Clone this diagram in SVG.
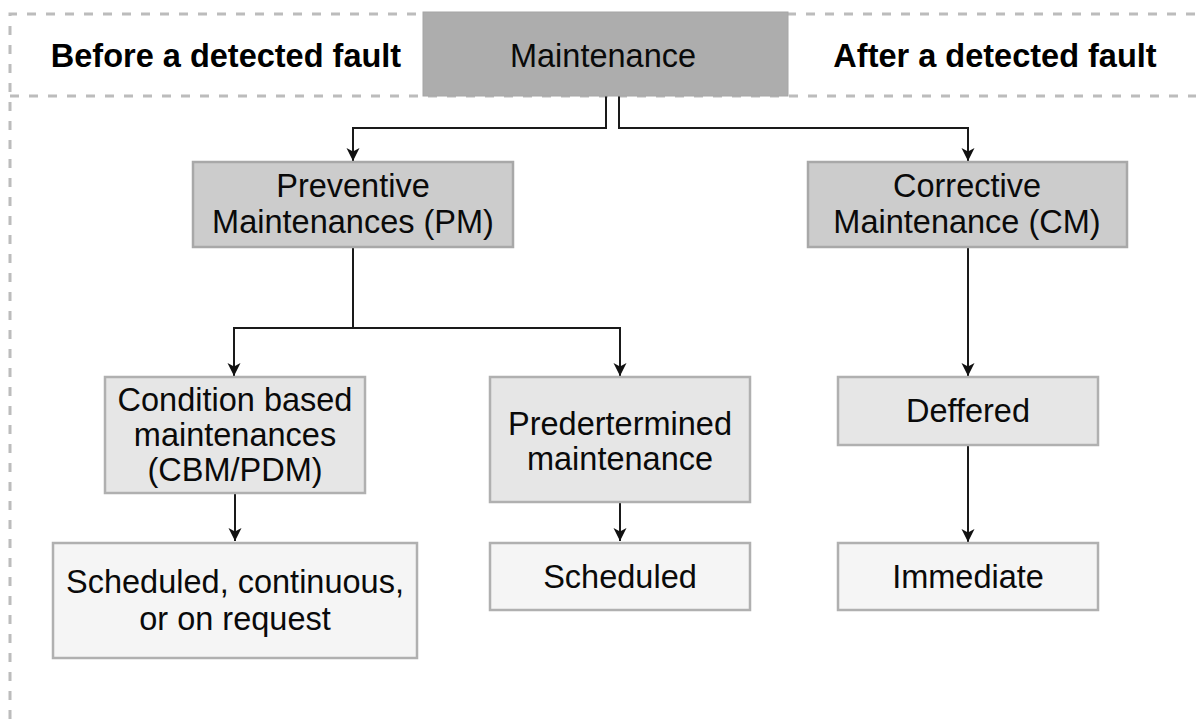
<svg xmlns="http://www.w3.org/2000/svg" width="1196" height="719" viewBox="0 0 1196 719">
<style>
  text { font-family: "Liberation Sans", Arial, Helvetica, sans-serif; font-size: 32.5px; fill: #0a0a0a; text-anchor: middle; }
  .hdr { font-weight: bold; fill: #000; }
  .dash { fill: none; stroke: #bcbcbc; stroke-width: 3; stroke-dasharray: 9 10; }
  .lvl1 { fill: #cccccc; stroke: #a8a8a8; stroke-width: 2.5; }
  .lvl2 { fill: #e6e6e6; stroke: #b0b0b0; stroke-width: 2.5; }
  .lvl3 { fill: #f5f5f5; stroke: #b0b0b0; stroke-width: 2.5; }
  .conn { fill: none; stroke: #1a1a1a; stroke-width: 2; }
</style>
<defs>
  <marker id="arr" markerUnits="userSpaceOnUse" markerWidth="16" markerHeight="16" refX="13" refY="8" orient="auto">
    <path d="M0,1.5 L13,8 L0,14.5 L3.5,8 Z" fill="#111"/>
  </marker>
</defs>
<rect width="1196" height="719" fill="#ffffff"/>

<g id="frame">
  <path class="dash" d="M10,719 L10,14 L1196,14"/>
  <path class="dash" d="M10,96 L1196,96"/>
</g>

<g id="headers">
  <text class="hdr" x="226" y="67">Before a detected fault</text>
  <text class="hdr" x="995" y="67">After a detected fault</text>
</g>

<g id="connectors">
  <path class="conn" d="M606,96 L606,128 L353,128 L353,161" marker-end="url(#arr)"/>
  <path class="conn" d="M619,96 L619,128 L968,128 L968,161" marker-end="url(#arr)"/>
  <path class="conn" d="M353,247 L353,328 L234,328 L234,376" marker-end="url(#arr)"/>
  <path class="conn" d="M353,328 L620,328 L620,376" marker-end="url(#arr)"/>
  <path class="conn" d="M968,247 L968,376" marker-end="url(#arr)"/>
  <path class="conn" d="M235,493 L235,541" marker-end="url(#arr)"/>
  <path class="conn" d="M620,502 L620,541" stroke-width="2.8" marker-end="url(#arr)"/>
  <path class="conn" d="M968,445 L968,542" marker-end="url(#arr)"/>
</g>

<g id="maintenance">
  <rect x="423" y="12" width="365" height="84" fill="#adadad" stroke="#a6a6a6" stroke-width="1"/>
  <text x="603" y="67">Maintenance</text>
</g>

<g id="preventive">
  <rect class="lvl1" x="193" y="162" width="320" height="85"/>
  <text x="353" y="197">Preventive</text>
  <text x="353" y="233">Maintenances (PM)</text>
</g>

<g id="corrective">
  <rect class="lvl1" x="808" y="162" width="319" height="85"/>
  <text x="967" y="197">Corrective</text>
  <text x="967" y="233">Maintenance (CM)</text>
</g>

<g id="cbm">
  <rect class="lvl2" x="105" y="377" width="260" height="116"/>
  <text x="235" y="411">Condition based</text>
  <text x="235" y="446">maintenances</text>
  <text x="235" y="481">(CBM/PDM)</text>
</g>

<g id="predetermined">
  <rect class="lvl2" x="490" y="377" width="260" height="125"/>
  <text x="620" y="435">Predertermined</text>
  <text x="620" y="470">maintenance</text>
</g>

<g id="deferred">
  <rect class="lvl2" x="838" y="377" width="260" height="68"/>
  <text x="968" y="422">Deffered</text>
</g>

<g id="sched-cont">
  <rect class="lvl3" x="53" y="543" width="364" height="115"/>
  <text x="235" y="593">Scheduled, continuous,</text>
  <text x="235" y="630">or on request</text>
</g>

<g id="scheduled">
  <rect class="lvl3" x="490" y="543" width="260" height="67"/>
  <text x="620" y="588">Scheduled</text>
</g>

<g id="immediate">
  <rect class="lvl3" x="838" y="543" width="260" height="67"/>
  <text x="968" y="588">Immediate</text>
</g>
</svg>
